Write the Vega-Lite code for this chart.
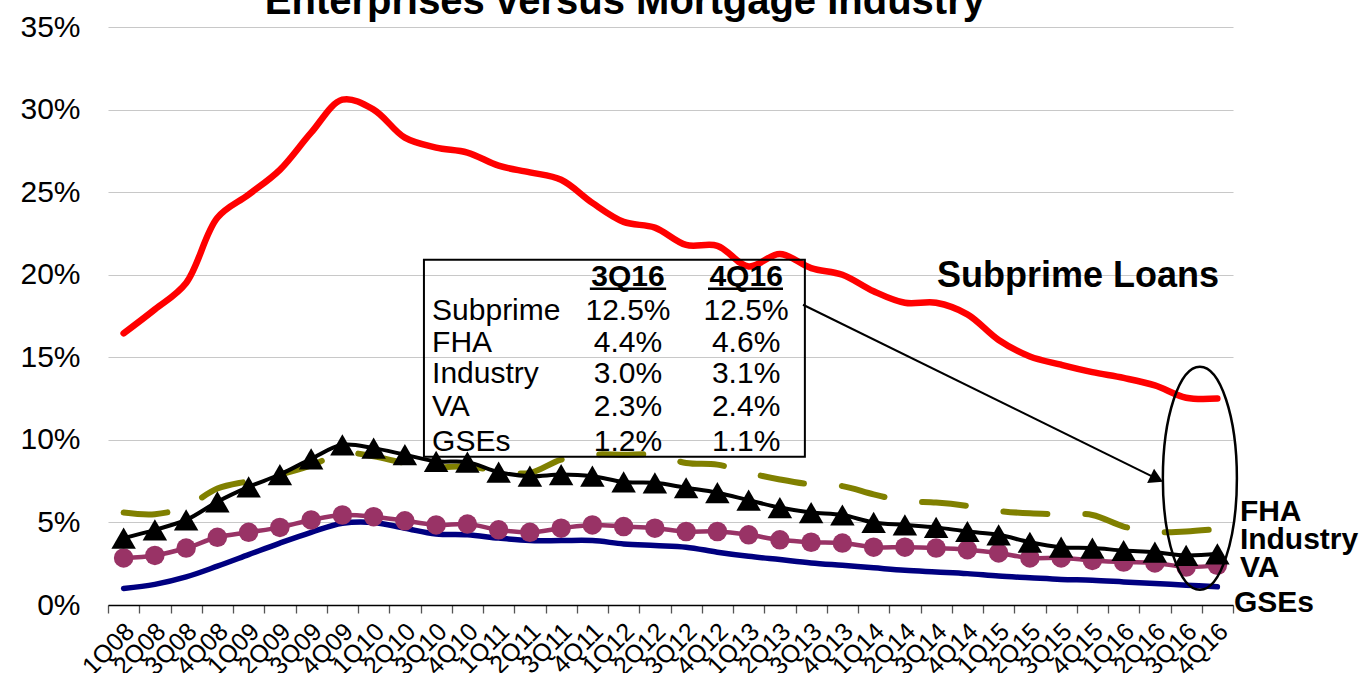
{
  "$schema": "https://vega.github.io/schema/vega-lite/v6.json",
  "width": 1125,
  "height": 578,
  "autosize": {"type": "none"},
  "padding": {"left": 108, "top": 27, "right": 132, "bottom": 68},
  "background": "white",
  "config": {
    "view": {"stroke": null},
    "font": "Liberation Sans",
    "axisY": {"tickCount": 7, "labelExpr": "datum.value + '%'", "domain": false, "ticks": false, "tickSize": 0, "grid": true, "gridColor": "#C8C8C8", "gridWidth": 1.2, "labelFontSize": 30, "labelPadding": 28, "labelColor": "black", "labelFont": "Liberation Sans"}
  },
  "datasets": {
    "main": [
      {"q": "1Q08", "sub": 16.45, "fha": 5.6, "ind": 4.05, "va": 2.85, "gse": 1.0},
      {"q": "2Q08", "sub": 17.9, "fha": 5.5, "ind": 4.55, "va": 3.0, "gse": 1.25},
      {"q": "3Q08", "sub": 19.5, "fha": 5.95, "ind": 5.15, "va": 3.45, "gse": 1.7},
      {"q": "4Q08", "sub": 23.45, "fha": 7.05, "ind": 6.25, "va": 4.1, "gse": 2.35},
      {"q": "1Q09", "sub": 24.85, "fha": 7.5, "ind": 7.15, "va": 4.4, "gse": 3.05},
      {"q": "2Q09", "sub": 26.35, "fha": 7.9, "ind": 7.9, "va": 4.7, "gse": 3.75},
      {"q": "3Q09", "sub": 28.6, "fha": 8.45, "ind": 8.85, "va": 5.15, "gse": 4.4},
      {"q": "4Q09", "sub": 30.6, "fha": 9.2, "ind": 9.7, "va": 5.45, "gse": 4.95},
      {"q": "1Q10", "sub": 30.0, "fha": 9.0, "ind": 9.5, "va": 5.35, "gse": 5.0},
      {"q": "2Q10", "sub": 28.3, "fha": 8.6, "ind": 9.1, "va": 5.1, "gse": 4.65},
      {"q": "3Q10", "sub": 27.7, "fha": 8.35, "ind": 8.7, "va": 4.85, "gse": 4.3},
      {"q": "4Q10", "sub": 27.4, "fha": 8.4, "ind": 8.65, "va": 4.9, "gse": 4.25},
      {"q": "1Q11", "sub": 26.6, "fha": 8.1, "ind": 8.05, "va": 4.55, "gse": 4.05},
      {"q": "2Q11", "sub": 26.2, "fha": 8.0, "ind": 7.8, "va": 4.4, "gse": 3.9},
      {"q": "3Q11", "sub": 25.75, "fha": 8.8, "ind": 7.9, "va": 4.65, "gse": 3.9},
      {"q": "4Q11", "sub": 24.35, "fha": 9.1, "ind": 7.8, "va": 4.85, "gse": 3.9},
      {"q": "1Q12", "sub": 23.2, "fha": 9.1, "ind": 7.45, "va": 4.75, "gse": 3.7},
      {"q": "2Q12", "sub": 22.85, "fha": 9.1, "ind": 7.4, "va": 4.65, "gse": 3.6},
      {"q": "3Q12", "sub": 21.8, "fha": 8.6, "ind": 7.1, "va": 4.45, "gse": 3.5},
      {"q": "4Q12", "sub": 21.75, "fha": 8.5, "ind": 6.8, "va": 4.45, "gse": 3.2},
      {"q": "1Q13", "sub": 20.5, "fha": 8.0, "ind": 6.35, "va": 4.25, "gse": 2.95},
      {"q": "2Q13", "sub": 21.25, "fha": 7.6, "ind": 5.9, "va": 3.95, "gse": 2.75},
      {"q": "3Q13", "sub": 20.4, "fha": 7.3, "ind": 5.6, "va": 3.8, "gse": 2.55},
      {"q": "4Q13", "sub": 20.0, "fha": 7.2, "ind": 5.45, "va": 3.75, "gse": 2.4},
      {"q": "1Q14", "sub": 19.0, "fha": 6.7, "ind": 5.0, "va": 3.5, "gse": 2.25},
      {"q": "2Q14", "sub": 18.3, "fha": 6.3, "ind": 4.85, "va": 3.5, "gse": 2.1},
      {"q": "3Q14", "sub": 18.3, "fha": 6.2, "ind": 4.7, "va": 3.45, "gse": 2.0},
      {"q": "4Q14", "sub": 17.6, "fha": 6.0, "ind": 4.45, "va": 3.35, "gse": 1.9},
      {"q": "1Q15", "sub": 16.05, "fha": 5.7, "ind": 4.25, "va": 3.15, "gse": 1.75},
      {"q": "2Q15", "sub": 15.05, "fha": 5.55, "ind": 3.8, "va": 2.85, "gse": 1.65},
      {"q": "3Q15", "sub": 14.55, "fha": 5.5, "ind": 3.5, "va": 2.85, "gse": 1.55},
      {"q": "4Q15", "sub": 14.1, "fha": 5.45, "ind": 3.45, "va": 2.7, "gse": 1.5},
      {"q": "1Q16", "sub": 13.75, "fha": 4.75, "ind": 3.3, "va": 2.6, "gse": 1.4},
      {"q": "2Q16", "sub": 13.3, "fha": 4.42, "ind": 3.2, "va": 2.55, "gse": 1.3},
      {"q": "3Q16", "sub": 12.55, "fha": 4.45, "ind": 3.0, "va": 2.3, "gse": 1.2},
      {"q": "4Q16", "sub": 12.5, "fha": 4.6, "ind": 3.1, "va": 2.4, "gse": 1.1}
    ],
    "ttl": [{"x": 16.54, "y": 35.76, "t": "Enterprises versus Mortgage Industry"}],
    "hdr": [
      {"x": 16.64, "y": 19.88, "t": "3Q16"},
      {"x": 20.42, "y": 19.88, "t": "4Q16"}
    ],
    "ulines": [
      {"x1": 15.42, "x2": 17.86, "y": 19.15},
      {"x1": 19.2, "x2": 21.6, "y": 19.15}
    ],
    "rowlab": [
      {"x": 10.37, "y": 17.82, "t": "Subprime"},
      {"x": 10.37, "y": 15.88, "t": "FHA"},
      {"x": 10.37, "y": 14.0, "t": "Industry"},
      {"x": 10.37, "y": 12.0, "t": "VA"},
      {"x": 10.37, "y": 9.88, "t": "GSEs"}
    ],
    "rowval": [
      {"x": 16.64, "y": 17.82, "t": "12.5%"},
      {"x": 20.42, "y": 17.82, "t": "12.5%"},
      {"x": 16.64, "y": 15.88, "t": "4.4%"},
      {"x": 20.42, "y": 15.88, "t": "4.6%"},
      {"x": 16.64, "y": 14.0, "t": "3.0%"},
      {"x": 20.42, "y": 14.0, "t": "3.1%"},
      {"x": 16.64, "y": 12.0, "t": "2.3%"},
      {"x": 20.42, "y": 12.0, "t": "2.4%"},
      {"x": 16.64, "y": 9.88, "t": "1.2%"},
      {"x": 20.42, "y": 9.88, "t": "1.1%"}
    ],
    "box": [{"x1": 10.11, "x2": 22.3, "y1": 20.91, "y2": 8.97}],
    "arrow": [{"x1": 22.24, "y1": 18.18, "x2": 33.41, "y2": 7.79}],
    "head": [{"x": 33.56, "y": 7.64}],
    "oval": [{"x": 34.94, "y": 7.67}],
    "series": [
      {"x": 36.22, "y": 5.64, "t": "FHA"},
      {"x": 36.22, "y": 3.94, "t": "Industry"},
      {"x": 36.22, "y": 2.24, "t": "VA"},
      {"x": 36.03, "y": 0.12, "t": "GSEs"}
    ],
    "subl": [{"x": 31.04, "y": 19.9, "t": "Subprime Loans"}]
  },
  "layer": [
    {
      "data": {"name": "main"},
      "encoding": {
        "x": {
          "field": "q", "type": "ordinal", "sort": null, "bandPosition": 0.5,
          "scale": {"type": "band", "paddingInner": 0, "paddingOuter": 0},
          "axis": {"title": null, "labelAngle": -45, "labelAlign": "right", "labelBaseline": "middle", "labelFontSize": 25, "labelColor": "black", "labelFont": "Liberation Sans", "labelPadding": 14, "labelOffset": 6, "labelOverlap": false, "tickSize": 8, "tickColor": "#555555", "tickWidth": 1.3, "domainColor": "black", "domainWidth": 1.3, "tickBand": "extent", "grid": false}
        }
      },
      "layer": [
        {"mark": {"type": "line", "color": "#000080", "strokeWidth": 5.5, "interpolate": "catmull-rom", "strokeCap": "round"},
         "encoding": {"y": {"field": "gse", "type": "quantitative", "title": null, "scale": {"domain": [0, 35], "nice": false}}}},
        {"mark": {"type": "line", "color": "#993366", "strokeWidth": 4.5, "interpolate": "catmull-rom"},
         "encoding": {"y": {"field": "va", "type": "quantitative", "title": null}}},
        {"mark": {"type": "point", "shape": "circle", "filled": true, "color": "#993366", "opacity": 1, "size": 380},
         "encoding": {"y": {"field": "va", "type": "quantitative", "title": null}}},
        {"mark": {"type": "line", "color": "#808000", "strokeWidth": 6, "interpolate": "catmull-rom", "strokeDash": [44, 38], "strokeCap": "round"},
         "encoding": {"y": {"field": "fha", "type": "quantitative", "title": null}}},
        {"mark": {"type": "line", "color": "black", "strokeWidth": 4, "interpolate": "catmull-rom"},
         "encoding": {"y": {"field": "ind", "type": "quantitative", "title": null}}},
        {"mark": {"type": "point", "shape": "triangle-up", "filled": true, "color": "black", "opacity": 1, "size": 600},
         "encoding": {"y": {"field": "ind", "type": "quantitative", "title": null}}},
        {"mark": {"type": "line", "color": "#FF0000", "strokeWidth": 6.5, "interpolate": "catmull-rom", "strokeCap": "round"},
         "encoding": {"y": {"field": "sub", "type": "quantitative", "title": null}}}
      ]
    },
    {
      "layer": [
        {"data": {"name": "box"},
         "mark": {"type": "rect", "filled": false, "color": "black", "strokeWidth": 2},
         "encoding": {
           "x": {"field": "x1", "type": "quantitative", "scale": {"domain": [0, 36], "nice": false, "zero": false}, "axis": null},
           "x2": {"field": "x2"},
           "y": {"field": "y1", "type": "quantitative", "title": null},
           "y2": {"field": "y2"}
         }},
        {"data": {"name": "ttl"},
         "mark": {"type": "text", "font": "Liberation Sans", "fontSize": 40, "fontWeight": "bold", "align": "center", "baseline": "alphabetic", "color": "black"},
         "encoding": {
           "x": {"field": "x", "type": "quantitative", "axis": null},
           "y": {"field": "y", "type": "quantitative", "title": null, "scale": {"domain": [0, 35], "nice": false}},
           "text": {"field": "t"}
         }},
        {"data": {"name": "ulines"},
         "mark": {"type": "rule", "color": "black", "strokeWidth": 2.6},
         "encoding": {
           "x": {"field": "x1", "type": "quantitative", "axis": null},
           "x2": {"field": "x2"},
           "y": {"field": "y", "type": "quantitative", "title": null}
         }},
        {"data": {"name": "hdr"},
         "mark": {"type": "text", "font": "Liberation Sans", "fontSize": 30, "fontWeight": "bold", "align": "center", "baseline": "middle", "color": "black"},
         "encoding": {
           "x": {"field": "x", "type": "quantitative", "axis": null},
           "y": {"field": "y", "type": "quantitative", "title": null},
           "text": {"field": "t"}
         }},
        {"data": {"name": "rowlab"},
         "mark": {"type": "text", "font": "Liberation Sans", "fontSize": 30, "align": "left", "baseline": "middle", "color": "black"},
         "encoding": {
           "x": {"field": "x", "type": "quantitative", "axis": null},
           "y": {"field": "y", "type": "quantitative", "title": null},
           "text": {"field": "t"}
         }},
        {"data": {"name": "rowval"},
         "mark": {"type": "text", "font": "Liberation Sans", "fontSize": 30, "align": "center", "baseline": "middle", "color": "black"},
         "encoding": {
           "x": {"field": "x", "type": "quantitative", "axis": null},
           "y": {"field": "y", "type": "quantitative", "title": null},
           "text": {"field": "t"}
         }},
        {"data": {"name": "arrow"},
         "mark": {"type": "rule", "color": "black", "strokeWidth": 2},
         "encoding": {
           "x": {"field": "x1", "type": "quantitative", "axis": null},
           "x2": {"field": "x2"},
           "y": {"field": "y1", "type": "quantitative", "title": null},
           "y2": {"field": "y2"}
         }},
        {"data": {"name": "head"},
         "mark": {"type": "point", "shape": "triangle-right", "filled": true, "color": "black", "opacity": 1, "size": 250, "angle": 26},
         "encoding": {
           "x": {"field": "x", "type": "quantitative", "axis": null},
           "y": {"field": "y", "type": "quantitative", "title": null}
         }},
        {"data": {"name": "oval"},
         "mark": {"type": "point", "shape": "M0,-1C0.1834,-1,0.332,-0.5523,0.332,0C0.332,0.5523,0.1834,1,0,1C-0.1834,1,-0.332,0.5523,-0.332,0C-0.332,-0.5523,-0.1834,-1,0,-1Z", "filled": false, "color": "black", "opacity": 1, "strokeWidth": 2.5, "size": 49729},
         "encoding": {
           "x": {"field": "x", "type": "quantitative", "axis": null},
           "y": {"field": "y", "type": "quantitative", "title": null}
         }},
        {"data": {"name": "series"},
         "mark": {"type": "text", "font": "Liberation Sans", "fontSize": 30, "fontWeight": "bold", "align": "left", "baseline": "middle", "color": "black"},
         "encoding": {
           "x": {"field": "x", "type": "quantitative", "axis": null},
           "y": {"field": "y", "type": "quantitative", "title": null},
           "text": {"field": "t"}
         }},
        {"data": {"name": "subl"},
         "mark": {"type": "text", "font": "Liberation Sans", "fontSize": 36, "fontWeight": "bold", "align": "center", "baseline": "middle", "color": "black"},
         "encoding": {
           "x": {"field": "x", "type": "quantitative", "axis": null},
           "y": {"field": "y", "type": "quantitative", "title": null},
           "text": {"field": "t"}
         }}
      ]
    }
  ],
  "resolve": {"scale": {"x": "independent"}}
}
